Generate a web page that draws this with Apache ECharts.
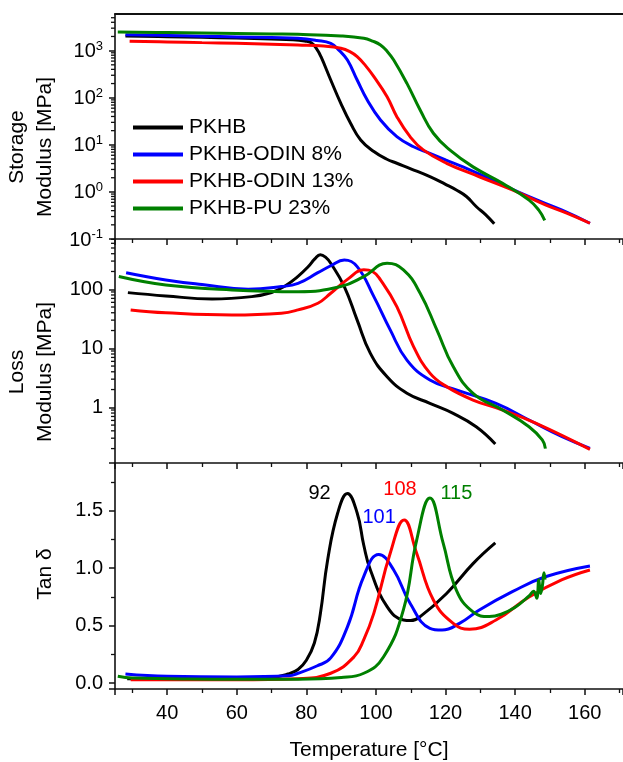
<!DOCTYPE html>
<html><head><meta charset="utf-8">
<script src="https://cdn.jsdelivr.net/npm/echarts@6/dist/echarts.min.js"></script>
<style>html,body{margin:0;padding:0;background:#fff}#c{width:623px;height:762px}</style>
</head><body><div id="c"></div>
<script>
// ---------- data ----------
const names = ['PKHB', 'PKHB-ODIN 8%', 'PKHB-ODIN 13%', 'PKHB-PU 23%'];
const colors = ['#000000', '#0000ff', '#ff0000', '#008000'];
const peakLabels = ['92', '101', '108', '115'];
const peakLabelPos = [[83.8, 1.654], [100.9, 1.437], [106.9, 1.689], [123.1, 1.654]];

// Storage modulus [MPa] vs T [°C]
const storagePKHB = [[28,2050],[40,1980],[50,1920],[60,1850],[70,1760],[76,1700],[79.5,1600],[81.4,1470],[83,1080],[84.2,743],[87,238],[89.9,76],[92.7,28.7],[95.6,12.7],[99.4,7.2],[103,5],[106,4.06],[110,3.1],[115.5,2.11],[120,1.45],[123.1,1.1],[126,0.8],[128.8,0.49],[131.5,0.33],[134,0.21]];
const storageODIN8 = [[28,2180],[40,2100],[50,2030],[60,1960],[70,1890],[77.6,1830],[83,1650],[87,1430],[89.5,1000],[91.8,632],[94.6,238],[97.5,89.5],[101.3,33.7],[106,14.9],[110.8,9.1],[115.5,6.6],[120,4.8],[125,3.4],[134.5,1.65],[144,0.79],[153.5,0.41],[161.5,0.216]];
const storageODIN13 = [[29.2,1580],[40,1530],[50,1480],[60,1430],[70,1370],[77.6,1320],[85,1250],[89.9,1120],[92.5,950],[94.6,743],[97,480],[99.4,280],[103.2,105],[106,39.6],[109.8,14.9],[113.6,7.8],[120.3,4.05],[129.7,2.1],[139.2,1.1],[148.7,0.53],[155,0.35],[161.5,0.216]];
const storagePU23 = [[25.8,2490],[40,2420],[50,2370],[60,2320],[70,2260],[77.6,2220],[90,2050],[96.5,1830],[99,1600],[101.3,1320],[103.3,950],[105.1,632],[108.9,202],[112.7,55],[116.5,17.6],[121.2,7.8],[127.9,3.4],[136.4,1.52],[144,0.67],[146.8,0.41],[148.5,0.25]];

// Loss modulus [MPa]
const lossPKHB = [[28.7,87.7],[39.6,77],[52.9,68.6],[64.3,75],[70,88],[74,115],[77.6,165],[80.5,240],[82.5,330],[84,385],[85.5,350],[87,276],[90.9,111],[94.6,30],[98.4,8.2],[103.2,3.3],[108.9,1.73],[115.5,1.17],[122.2,0.79],[128.8,0.47],[134.3,0.24]];
const lossODIN8 = [[28.2,191],[39.6,144],[50,120],[63.3,100],[72.8,111],[77.6,126],[83.3,191],[87,250],[90.9,314],[94.6,242],[99.4,75],[104.1,20.5],[108.9,6.3],[115.5,2.9],[123.1,1.97],[134.5,1.17],[144,0.61],[153.5,0.318],[161.5,0.202]];
const lossODIN13 = [[29.5,44.7],[39.6,40],[58.6,36.7],[72.8,39.3],[77.6,44.7],[83.3,58],[87,85.7],[92,150],[96.5,213],[99,200],[101.3,144],[106,50.8],[110.8,10.7],[115.5,3.8],[120.3,2.24],[127.9,1.33],[136.4,0.9],[145.9,0.54],[161.5,0.194]];
const lossPU23 = [[26.1,164],[39.6,118],[58.6,97.4],[77.6,91],[89.9,111],[96.5,164],[103.2,276],[107.9,213],[112.7,85.7],[117.5,20.5],[122.2,4.9],[127.9,1.73],[136.4,0.9],[144,0.47],[147.8,0.28],[148.7,0.2]];

// Tan delta
const tanPKHB = [[28.5,0.04],[40,0.04],[60,0.04],[70,0.05],[74.7,0.08],[77.6,0.12],[80,0.2],[82.3,0.35],[84,0.6],[86.1,1.07],[89,1.48],[91.8,1.65],[94.6,1.48],[96.5,1.2],[98.4,0.985],[103.2,0.666],[107.9,0.55],[110,0.545],[112.7,0.579],[120.3,0.78],[127.9,1.04],[134.3,1.22]];
const tanODIN8 = [[28,0.08],[40,0.06],[60,0.055],[75,0.065],[77.6,0.087],[83,0.15],[87,0.22],[91.8,0.49],[96.5,0.93],[100.8,1.12],[105.1,0.985],[109.8,0.695],[115.5,0.478],[119,0.463],[124,0.52],[129.7,0.637],[139.2,0.796],[148.7,0.926],[161.5,1.02]];
const tanODIN13 = [[29.5,0.03],[40,0.03],[60,0.03],[77.6,0.04],[87,0.087],[93.7,0.23],[96.5,0.38],[99.4,0.61],[104.1,1.13],[108.1,1.42],[111.7,1.13],[116.5,0.724],[122.2,0.52],[126.9,0.47],[134.5,0.55],[144,0.75],[153.5,0.9],[161.5,0.985]];
const tanPU23 = [[25.8,0.06],[30,0.045],[40,0.04],[60,0.035],[77.6,0.035],[90,0.05],[96.5,0.087],[102.2,0.23],[107.9,0.64],[111.7,1.245],[115.5,1.61],[119.3,1.22],[123.1,0.81],[127.9,0.62],[132.6,0.58],[136,0.6],[140,0.66],[144,0.76],[145.3,0.8],[146.2,0.74],[146.8,0.9],[147.3,0.78],[147.8,0.84],[148.3,0.96],[148.6,0.9]];

const panels = [
  [storagePKHB, storageODIN8, storageODIN13, storagePU23],
  [lossPKHB, lossODIN8, lossODIN13, lossPU23],
  [tanPKHB, tanODIN8, tanODIN13, tanPU23]
];

// minor tick values for log axes
function logMinor(lo, hi) {
  const out = [];
  for (let k = -2; k <= 4; k++) for (let m = 2; m <= 9; m++) {
    const v = m * Math.pow(10, k);
    if (v > lo && v < hi) out.push(v);
  }
  return out;
}
const storageMinorTicks = logMinor(0.1, 6000);
const lossMinorTicks = logMinor(0.114, 710);

// ---------- chart ----------
const FONT = '"Liberation Sans", Arial, sans-serif';
const chart = echarts.init(document.getElementById('c'));
const X_MIN = 25, X_MAX = 171;
const grids = [
  {left: 115, right: -5, top: 14, height: 225},
  {left: 115, right: -5, top: 239, height: 224},
  {left: 115, right: -5, top: 463, height: 226}
];
const axisLine = {show: true, onZero: false, lineStyle: {color: '#111', width: 1.6}};

const xAxes = [0, 1, 2].map(i => ({
  type: 'value', gridIndex: i, min: X_MIN, max: X_MAX, splitNumber: 7,
  axisLine: axisLine,
  axisTick: {show: true, inside: false, length: 6, lineStyle: {color: '#111', width: 1.5}},
  minorTick: {show: true, splitNumber: 2, length: 4, lineStyle: {color: '#111', width: 1.3}},
  splitLine: {show: false},
  axisLabel: {show: i === 2, fontSize: 20, color: '#000', fontFamily: FONT, margin: 14,
    showMinLabel: false, showMaxLabel: false},
  name: i === 2 ? 'Temperature [°C]' : '',
  nameLocation: 'middle', nameGap: 51,
  nameTextStyle: {fontSize: 21, color: '#000', fontFamily: FONT}
}));
xAxes.push({type: 'value', gridIndex: 0, position: 'top', min: X_MIN, max: X_MAX,
  axisLine: {show: true, onZero: false, lineStyle: {color: '#111', width: 1.8}},
  axisTick: {show: false}, axisLabel: {show: false}, splitLine: {show: false}});

const supRich = {
  b: {fontSize: 20, fontFamily: FONT, color: '#000', verticalAlign: 'bottom', lineHeight: 22},
  s: {fontSize: 13, fontFamily: FONT, color: '#000', verticalAlign: 'top', lineHeight: 22, padding: [0, 0, 10, 0]}
};
const yAxes = [
  {type: 'log', gridIndex: 0, min: 0.1, max: 6000, logBase: 10,
   axisLine: axisLine, splitLine: {show: false},
   axisTick: {show: true, length: 6, lineStyle: {color: '#111', width: 1.5}},
   axisLabel: {margin: 12, showMaxLabel: false, rich: supRich,
     formatter: v => '{b|10}{s|' + Math.round(Math.log10(v)) + '}'}},
  {type: 'log', gridIndex: 1, min: 0.114, max: 710, logBase: 10,
   axisLine: axisLine, splitLine: {show: false},
   axisTick: {show: true, length: 6, lineStyle: {color: '#111', width: 1.5}},
   axisLabel: {margin: 12, showMinLabel: false, showMaxLabel: false, fontSize: 20, color: '#000', fontFamily: FONT,
     formatter: v => String(Math.round(v))}},
  {type: 'value', gridIndex: 2, min: -0.05, max: 1.915, splitNumber: 4,
   axisLine: axisLine, splitLine: {show: false},
   axisTick: {show: true, length: 6, lineStyle: {color: '#111', width: 1.5}},
   minorTick: {show: true, splitNumber: 2, length: 4, lineStyle: {color: '#111', width: 1.3}},
   axisLabel: {margin: 12, showMinLabel: false, showMaxLabel: false, fontSize: 20, color: '#000', fontFamily: FONT,
     formatter: v => v.toFixed(1)}}
];

const series = [];
panels.forEach((sets, p) => {
  sets.forEach((data, i) => {
    const s = {
      name: names[i], type: 'line', xAxisIndex: p, yAxisIndex: p, data: data,
      showSymbol: false, smooth: 0.45, color: colors[i],
      lineStyle: {width: 3, color: colors[i]}, z: 2 + i, silent: true
    };
    if (p === 2) {
      s.markPoint = {
        symbol: 'circle', symbolSize: 0, silent: true,
        label: {show: true, position: 'inside', formatter: peakLabels[i], color: colors[i], fontSize: 20, fontFamily: FONT},
        data: [{coord: peakLabelPos[i], value: peakLabels[i]}]
      };
    }
    series.push(s);
  });
});
function minorTickSeries(p, vals) {
  return {
    type: 'custom', xAxisIndex: p, yAxisIndex: p, silent: true, clip: false, z: 10,
    data: vals.map(v => [X_MIN, v]),
    renderItem: (params, api) => {
      const pt = api.coord([api.value(0), api.value(1)]);
      return {type: 'line', shape: {x1: pt[0] - 4, y1: pt[1], x2: pt[0], y2: pt[1]},
        style: {stroke: '#111', lineWidth: 1.3}};
    }
  };
}
series.push(minorTickSeries(0, storageMinorTicks));
series.push(minorTickSeries(1, lossMinorTicks));

chart.setOption({
  animation: false,
  backgroundColor: '#fff',
  grid: grids,
  xAxis: xAxes,
  yAxis: yAxes,
  legend: {
    data: names, orient: 'vertical', left: 133, top: 117, padding: 0,
    icon: 'rect', itemWidth: 50, itemHeight: 4, itemGap: 6,
    textStyle: {fontSize: 21, color: '#000', fontFamily: FONT, lineHeight: 21, padding: [0, 0, 0, 1]},
    selectedMode: false
  },
  graphic: [
    {type: 'text', x: 31, y: 147, rotation: Math.PI / 2,
     style: {text: 'Storage\nModulus [MPa]', font: '21px ' + FONT, fill: '#000', textAlign: 'center', textVerticalAlign: 'middle', lineHeight: 28}},
    {type: 'text', x: 31, y: 372, rotation: Math.PI / 2,
     style: {text: 'Loss\nModulus [MPa]', font: '21px ' + FONT, fill: '#000', textAlign: 'center', textVerticalAlign: 'middle', lineHeight: 28}},
    {type: 'text', x: 45, y: 574, rotation: Math.PI / 2,
     style: {text: 'Tan δ', font: '21px ' + FONT, fill: '#000', textAlign: 'center', textVerticalAlign: 'middle'}}
  ],
  series: series
});
</script></body></html>
